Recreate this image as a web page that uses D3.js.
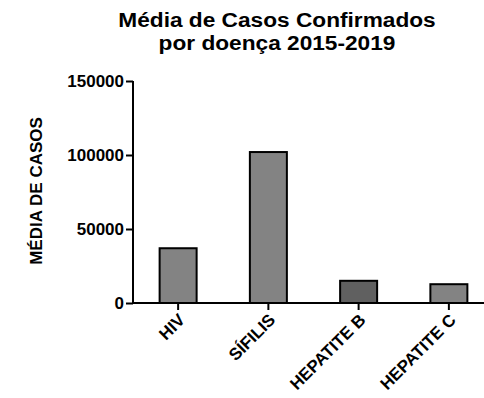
<!DOCTYPE html>
<html>
<head>
<meta charset="utf-8">
<script src="https://cdn.jsdelivr.net/npm/d3@7"></script>
<style>
  body { margin: 0; background: #fff; }
  text { font-family: Arial, "Liberation Sans", sans-serif; font-weight: bold; }
</style>
</head>
<body>
<div class="chart"></div>
<script>
const categories = ["HIV", "SÍFILIS", "HEPATITE B", "HEPATITE C"];
const values = [37000, 102000, 15000, 12700];
const fills = ["#838383", "#838383", "#606060", "#838383"];
const yTicks = [0, 50000, 100000, 150000];

const width = 484, height = 398;

const svg = d3.select(".chart").append("svg")
    .attr("width", width)
    .attr("height", height);

const xScale = d3.scaleBand()
    .domain(categories)
    .range([133, 494])
    .paddingInner(0.59)
    .paddingOuter(0.295);

const yScale = d3.scaleLinear()
    .domain([0, 150000])
    .range([303, 81]);

// title, a bit wider than the plain font like in the original
const title = svg.append("g")
    .attr("transform", "translate(277,0) scale(1.08,1)")
    .attr("font-size", 21)
    .attr("text-anchor", "middle");

title.append("text")
    .attr("y", 27)
    .text("Média de Casos Confirmados");

title.append("text")
    .attr("y", 50)
    .text("por doença 2015-2019");

// bars
svg.append("g")
    .selectAll("rect")
    .data(values)
    .join("rect")
    .attr("x", (d, i) => xScale(categories[i]))
    .attr("y", d => yScale(d))
    .attr("width", xScale.bandwidth())
    .attr("height", d => yScale(0) - yScale(d))
    .attr("fill", (d, i) => fills[i])
    .attr("stroke", "black")
    .attr("stroke-width", 2);

// y axis
svg.append("g")
    .attr("transform", "translate(133,0)")
    .call(d3.axisLeft(yScale).tickValues(yTicks).tickFormat(d3.format("d")).tickSize(7).tickPadding(2))
    .call(g => g.select(".domain").attr("stroke-width", 2).attr("d", "M0,81V304"))
    .call(g => g.selectAll(".tick line").attr("stroke-width", 2))
    .call(g => g.selectAll(".tick text")
        .attr("font-size", 17)
        .attr("font-family", "Arial, 'Liberation Sans', sans-serif")
        .attr("font-weight", "bold")
        .attr("fill", "black"));

// x axis
svg.append("g")
    .attr("transform", "translate(0,303)")
    .call(d3.axisBottom(xScale).tickSize(7).tickSizeOuter(0))
    .call(g => g.select(".domain").attr("stroke-width", 2).attr("d", "M132,0H484"))
    .call(g => g.selectAll(".tick line").attr("stroke-width", 2))
    .call(g => g.selectAll(".tick text")
        .attr("font-size", 17)
        .attr("font-family", "Arial, 'Liberation Sans', sans-serif")
        .attr("font-weight", "bold")
        .attr("fill", "black")
        .attr("text-anchor", "end")
        .attr("dy", null)
        .attr("y", 0)
        .attr("transform", "translate(8,18) rotate(-45)"));

// y label
svg.append("text")
    .attr("text-anchor", "middle")
    .attr("transform", "translate(42,191) rotate(-90)")
    .attr("font-size", 17)
    .text("MÉDIA DE CASOS");
</script>
</body>
</html>
